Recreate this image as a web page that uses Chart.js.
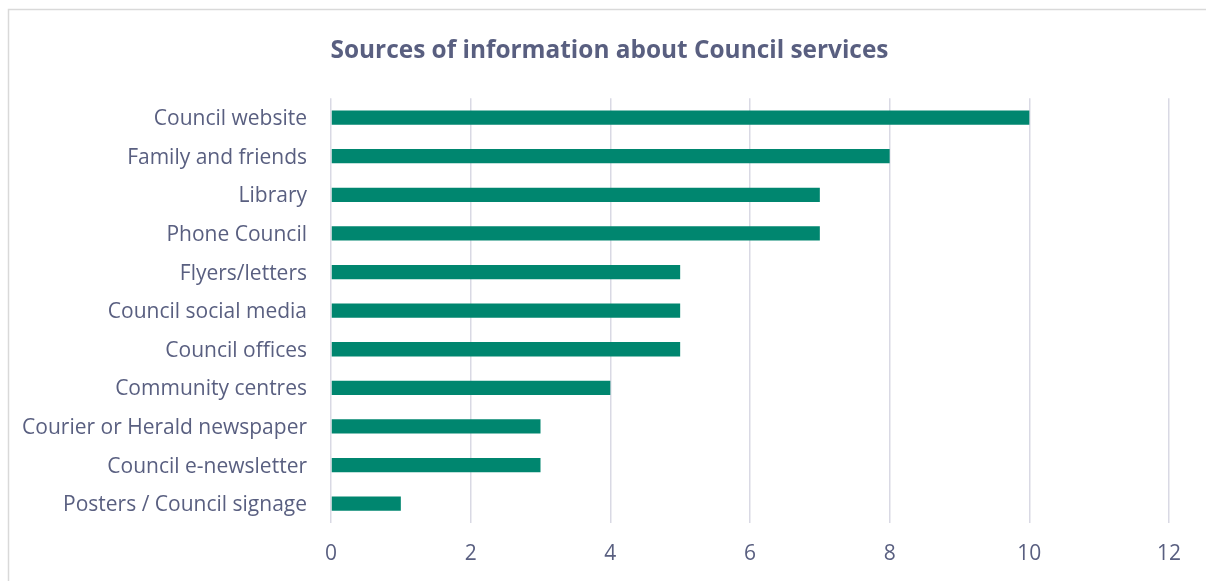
<!DOCTYPE html>
<html>
<head>
<meta charset="utf-8">
<script src="https://cdn.jsdelivr.net/npm/chart.js@4.4.1/dist/chart.umd.min.js"></script>
<style>
  html, body { margin: 0; padding: 0; background: #ffffff; }
  #wrap { position: relative; width: 1206px; height: 581px; }
  canvas { display: block; }
</style>
</head>
<body>
<div id="wrap"><canvas id="chart" width="1206" height="581"></canvas></div>
<script>
const categories = [
  'Council website',
  'Family and friends',
  'Library',
  'Phone Council',
  'Flyers/letters',
  'Council social media',
  'Council offices',
  'Community centres',
  'Courier or Herald newspaper',
  'Council e-newsletter',
  'Posters / Council signage'
];
const responses = [10, 8, 7, 7, 5, 5, 5, 4, 3, 3, 1];
const xTicks = [0, 2, 4, 6, 8, 10, 12];

const textColor = '#595f80';
const gridColor = '#d9d9e4';
const barColor = '#00866f';
const fontFamily = "'Open Sans', Lato, sans-serif";

// Light frame around the chart panel; title centred over the plot side
const framePlugin = {
  id: 'frame',
  afterLayout(chart) {
    if (chart.titleBlock) chart.titleBlock.left += 50;
  },
  beforeDraw(chart) {
    const ctx = chart.ctx;
    ctx.save();
    ctx.fillStyle = '#ffffff';
    ctx.fillRect(0, 0, chart.width, chart.height);
    ctx.strokeStyle = '#d9d9d9';
    ctx.lineWidth = 1.5;
    ctx.strokeRect(8.5, 9.5, chart.width + 20, chart.height + 20);
    ctx.restore();
  }
};

new Chart(document.getElementById('chart'), {
  type: 'bar',
  data: {
    labels: categories,
    datasets: [{
      label: 'Responses',
      data: responses,
      backgroundColor: barColor,
      borderWidth: 0,
      categoryPercentage: 1,
      barPercentage: 0.37
    }]
  },
  options: {
    indexAxis: 'y',
    responsive: false,
    animation: false,
    layout: { padding: { top: 0, right: 37, bottom: 0, left: 0 } },
    plugins: {
      legend: { display: false },
      tooltip: { enabled: false },
      title: {
        display: true,
        text: 'Sources of information about Council services',
        color: textColor,
        font: { family: fontFamily, size: 24.4, weight: 'bold', lineHeight: 1.2 },
        padding: { top: 36, bottom: 33 }
      }
    },
    scales: {
      x: {
        min: 0,
        max: 12,
        afterBuildTicks(axis) { axis.ticks = xTicks.map(v => ({ value: v })); },
        afterFit(axis) { axis.height = 58; },
        border: { display: false },
        grid: { color: gridColor, lineWidth: 1.5, drawTicks: false },
        ticks: {
          color: textColor,
          padding: 18,
          font: { family: fontFamily, size: 21 }
        }
      },
      y: {
        afterFit(axis) { axis.width = 331; },
        border: { display: false },
        grid: { display: false, drawTicks: false },
        ticks: {
          color: textColor,
          padding: 24,
          labelOffset: 1.5,
          autoSkip: false,
          font: { family: fontFamily, size: 21 }
        }
      }
    }
  },
  plugins: [framePlugin]
});
</script>
</body>
</html>
